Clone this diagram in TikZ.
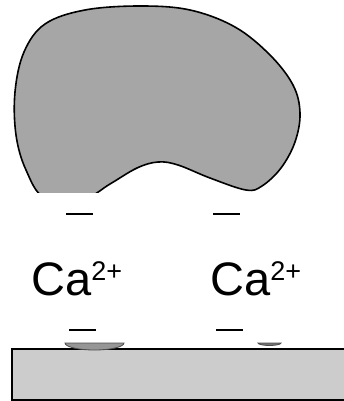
\documentclass[tikz,border=0pt]{standalone}
\usepackage{fontspec}
\setmainfont{Liberation Sans}
\usepackage{tikz}
\usetikzlibrary{positioning}
\definecolor{blobgray}{RGB}{166,166,166}
\definecolor{slabgray}{RGB}{204,204,204}
\definecolor{bumpgray}{RGB}{150,150,150}
\tikzset{
  blob/.style={draw=black, line width=1.6pt, fill=blobgray},
  slab/.style={draw=black, line width=1.8pt, fill=slabgray},
  charge/.style={draw=black, line width=2pt},
  ion/.style={inner sep=0pt, anchor=base west, font=\fontsize{47}{50}\selectfont},
  bump/.style={fill=bumpgray, draw=black!70, line width=0.8pt},
}
\newcommand{\calcium}{Ca\raisebox{15pt}{\fontsize{27}{30}\selectfont 2+}}

\begin{document}
\begin{tikzpicture}[x=1pt, y=-1pt]
\useasboundingbox (0,0) rectangle (344,401);
% particle, cut off at the bottom
\begin{scope}
  \clip (0,0) rectangle (344,192);
  \draw[blob] plot[smooth cycle, tension=0.6] coordinates {
    (140,6) (190,10) (235,27) (270,55) (293,85) (300,113) (295,142)
    (281,168) (262,186) (246,190) (210,178) (178,165) (158,162)
    (137,168) (110,184) (85,198) (45,198) (26,170) (16,135)
    (15,92) (24,52) (45,24) (85,10)};
\end{scope}
% surface
\draw[slab] (12,349) rectangle (346,400);
\draw[bump] (65,343) arc[start angle=180, end angle=0, x radius=29.5, y radius=7] -- cycle;
\draw[bump, fill=black!55] (258,343) arc[start angle=180, end angle=0, x radius=11.5, y radius=2.5] -- cycle;
% charges
\node[ion] (ca1) at (31,295) {\calcium};
\node[ion] (ca2) at (210,295) {\calcium};
\draw[charge] (66,214) -- (93,214);
\draw[charge] (213,214) -- (240,214);
\draw[charge] (69,330) -- (96,330);
\draw[charge] (216,330) -- (243,330);
\end{tikzpicture}
\end{document}
